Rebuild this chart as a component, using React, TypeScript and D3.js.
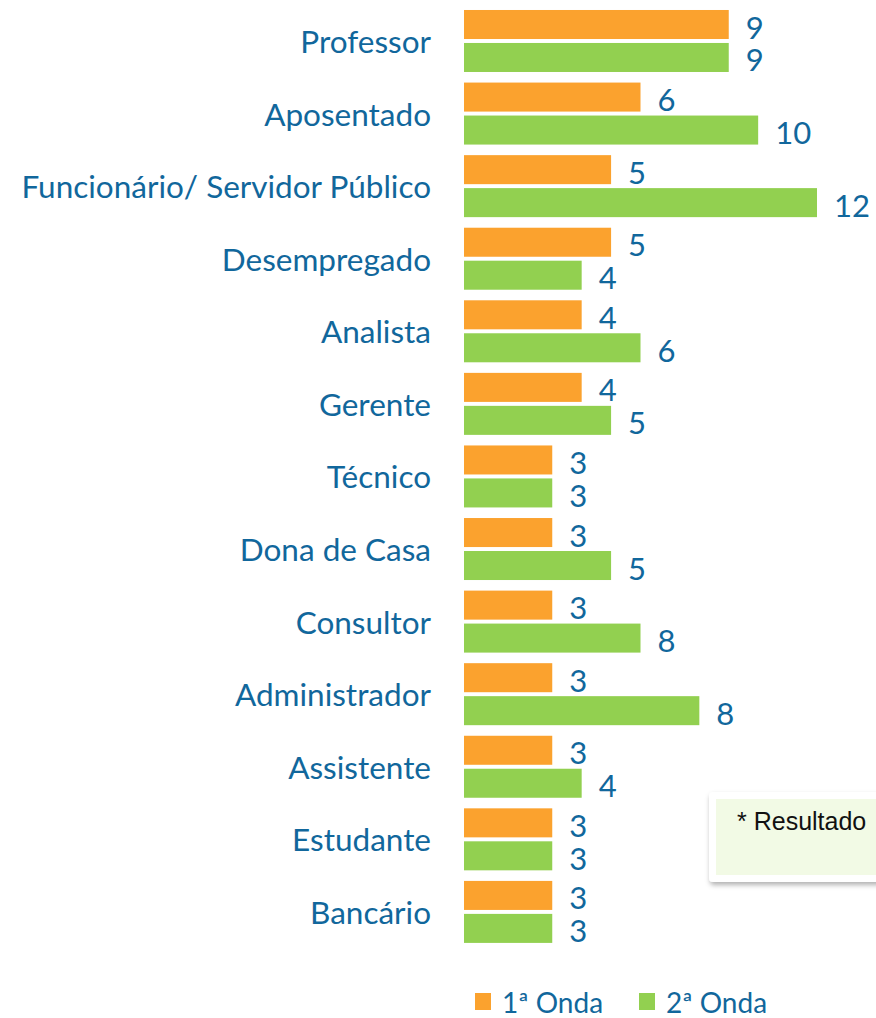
import { useEffect, useRef } from 'react'
import * as d3 from 'd3'

const categories = [
  'Professor', 'Aposentado', 'Funcionário/ Servidor Público', 'Desempregado', 'Analista',
  'Gerente', 'Técnico', 'Dona de Casa', 'Consultor', 'Administrador', 'Assistente',
  'Estudante', 'Bancário',
]
const onda1 = [9, 6, 5, 5, 4, 4, 3, 3, 3, 3, 3, 3, 3]
// a barra de Consultor no original tem comprimento 6, mas o rótulo diz 8
const onda2 = [9, 10, 12, 4, 6, 5, 3, 5, 6, 8, 4, 3, 3]
const onda2Labels = ['9', '10', '12', '4', '6', '5', '3', '5', '8', '8', '4', '3', '3']
const seriesNames = ['1ª Onda', '2ª Onda']
const colors = ['#FBA22E', '#92D050']

const W = 876, H = 1018
const TEXT = '#11679C'
const FONT = 'Lato, "Open Sans", sans-serif'

export default function App() {
  const svgRef = useRef<SVGSVGElement>(null)

  useEffect(() => {
    const svg = d3.select(svgRef.current)
    svg.selectAll('*').remove()
    svg.attr('viewBox', `0 0 ${W} ${H}`)

    const x = d3.scaleLinear().domain([0, 12]).range([464, 817])
    const y = d3.scaleBand<string>().domain(categories)
      .range([4.7, 948.2]).paddingInner(0.1458).paddingOuter(0.0729)
    const ySub = d3.scaleBand<string>().domain(seriesNames)
      .range([0, y.bandwidth()]).paddingInner(0.12)

    // sombra do quadro de nota
    const defs = svg.append('defs')
    const f = defs.append('filter').attr('id', 'shadow')
      .attr('x', '-10%').attr('y', '-10%').attr('width', '130%').attr('height', '140%')
    f.append('feDropShadow').attr('dx', 1).attr('dy', 3).attr('stdDeviation', 2.5)
      .attr('flood-color', '#000').attr('flood-opacity', 0.3)

    const rows = svg.append('g').selectAll('g')
      .data(categories.map((c, i) => ({ c, v: [onda1[i], onda2[i]], l: [String(onda1[i]), onda2Labels[i]] })))
      .join('g')
      .attr('transform', (d) => `translate(0,${y(d.c)})`)

    rows.append('text')
      .attr('x', 431).attr('y', y.bandwidth() / 2)
      .attr('text-anchor', 'end').attr('dominant-baseline', 'central')
      .attr('font-family', FONT).attr('font-size', 31.5).attr('fill', TEXT)
      .text((d) => d.c)

    seriesNames.forEach((s, si) => {
      rows.append('rect')
        .attr('x', x(0)).attr('y', ySub(s)!)
        .attr('width', (d) => x(d.v[si]) - x(0))
        .attr('height', ySub.bandwidth())
        .attr('fill', colors[si])

      rows.append('text')
        .attr('x', (d) => x(d.v[si]) + 17)
        .attr('y', ySub(s)! + ySub.bandwidth() / 2 + 2)
        .attr('dominant-baseline', 'central')
        .attr('font-family', FONT).attr('font-size', 31).attr('fill', TEXT)
        .text((d) => d.l[si])
    })

    // quadro de nota
    svg.append('rect')
      .attr('x', 709).attr('y', 792).attr('width', 180).attr('height', 90)
      .attr('rx', 4).attr('fill', '#fff').attr('filter', 'url(#shadow)')
    svg.append('rect')
      .attr('x', 716).attr('y', 799).attr('width', 170).attr('height', 76)
      .attr('fill', '#F2FAE5')
    svg.append('text')
      .attr('x', 737).attr('y', 830)
      .attr('font-family', '"Liberation Sans", Arial, sans-serif').attr('font-size', 25)
      .attr('fill', '#111').text('* Resultado')

    // legenda
    const lx = [475, 639]
    const leg = svg.append('g').selectAll('g').data(seriesNames).join('g')
      .attr('transform', (_, i) => `translate(${lx[i]},993)`)
    leg.append('rect').attr('width', 16).attr('height', 17)
      .attr('fill', (_, i) => colors[i])
    leg.append('text')
      .attr('x', 27).attr('y', 9).attr('dominant-baseline', 'central')
      .attr('font-family', FONT).attr('font-size', 28).attr('fill', TEXT)
      .text((d) => d)
  }, [])

  return (
    <div style={{ position: 'absolute', left: 0, top: 0 }}>
      <svg ref={svgRef} width={W} height={H} style={{ display: 'block' }} />
    </div>
  )
}
